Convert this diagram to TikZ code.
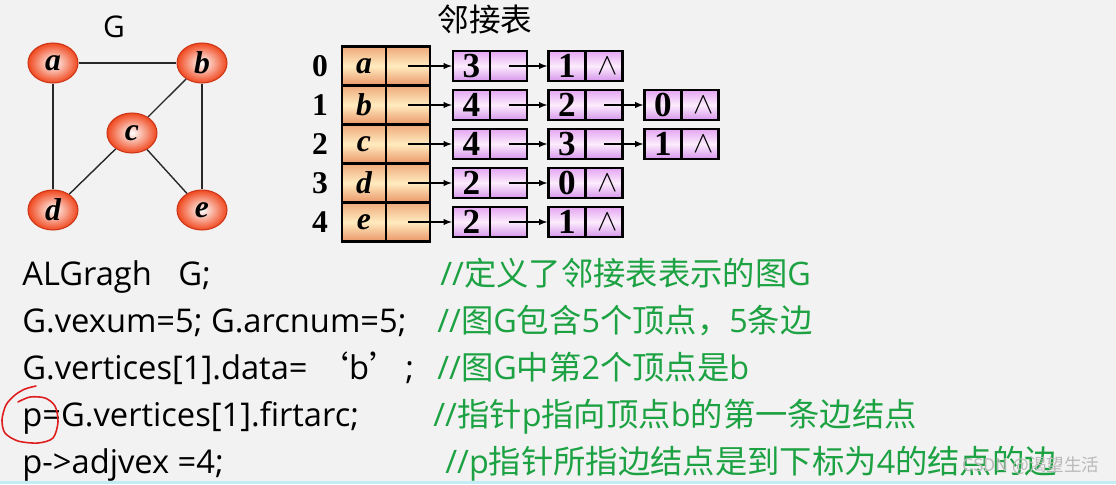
\documentclass[tikz,border=0pt]{standalone}
\usepackage{fontspec}
\setmainfont{Liberation Serif}
\newfontfamily\codefont{Open Sans}
\newfontfamily\cjk{Noto Sans CJK SC}
\usepackage{tikz}
\usetikzlibrary{arrows,shapes,positioning,calc}

\definecolor{bg}{RGB}{242,242,242}
\definecolor{vertred}{RGB}{240,72,30}
\definecolor{vertline}{RGB}{205,55,25}
\definecolor{headtop}{RGB}{238,168,122}
\definecolor{headmid}{RGB}{255,236,192}
\definecolor{headbot}{RGB}{234,150,104}
\definecolor{arctop}{RGB}{228,165,242}
\definecolor{arcmid}{RGB}{252,236,252}
\definecolor{arcbot}{RGB}{214,150,236}
\definecolor{notegreen}{RGB}{28,162,66}
\definecolor{edgecyan}{RGB}{196,236,244}
\definecolor{penred}{RGB}{222,30,30}

\newcommand{\nil}{\raisebox{-3pt}{\hspace{4pt}\fontsize{18}{18}\selectfont$\wedge$}}

\tikzset{
  vert/.style={ellipse, draw=vertline, line width=0.6pt, inner color=white, outer color=vertred,
    minimum width=1cm, minimum height=0.8cm, inner sep=0pt, font=\fontsize{18}{18}\selectfont\bfseries\itshape},
  gedge/.style={line width=0.8pt, draw={rgb,255:red,40;green,40;blue,40}},
  headcell/.style={draw, line width=1.4pt, top color=headtop, bottom color=headbot, middle color=headmid,
    minimum width=0.88cm, minimum height=0.78cm, inner sep=0pt, font=\fontsize{18}{18}\selectfont\bfseries\itshape},
  arccell/.style={draw, line width=1.4pt, top color=arctop, bottom color=arcbot, middle color=arcmid,
    minimum width=0.74cm, minimum height=0.6cm, inner sep=0pt, font=\fontsize{20}{20}\selectfont\bfseries},
  idx/.style={font=\fontsize{18}{18}\selectfont\bfseries, inner sep=0pt},
  arr/.style={-latex, line width=0.6pt},
  title/.style={font=\codefont\fontsize{17}{17}\selectfont, inner sep=0pt},
  code/.style={anchor=base west, inner sep=0pt, font=\codefont\fontsize{18.6}{18.6}\selectfont},
  note/.style={anchor=base west, inner sep=0pt, text=notegreen, font=\codefont\fontsize{18.4}{18.4}\selectfont},
  redloop/.style={draw=penred, line width=0.9pt, line cap=round},
  wmark/.style={inner sep=0pt, text=gray!55, font=\cjk\fontsize{10}{10}\selectfont}
}

\begin{document}
\begin{tikzpicture}[x=0.02cm,y=-0.02cm]
  \path[use as bounding box,fill=bg] (0,0) rectangle (1116,484);
  \fill[edgecyan] (0,481) rectangle (1116,484);

  \node[title] (gname) at (114,27) {G};
  \node[vert] (a) at (53,63) {a};
  \node[vert] (b) at (202,63) {b};
  \node[vert] (c) at (132,133) {c};
  \node[vert] (d) at (53,210) {d};
  \node[vert] (e) at (202,210) {e};
  \draw[gedge] (a) -- (b);
  \draw[gedge] (a) -- (d);
  \draw[gedge] (b) -- (c);
  \draw[gedge] (c) -- (d);
  \draw[gedge] (c) -- (e);
  \draw[gedge] (b) -- (e);

  \node[title,font=\cjk\fontsize{18}{18}\selectfont] (tname) at (485,19) {邻接表};
  \node[idx] (i0) at (320,66) {0};
  \node[idx] (i1) at (320,105) {1};
  \node[idx] (i2) at (320,144) {2};
  \node[idx] (i3) at (320,183) {3};
  \node[idx] (i4) at (320,222) {4};
  \node[headcell] (h0) at (364,66) {a};
  \node[headcell] (p0) at (408,66) {};
  \node[headcell] (h1) at (364,105) {b};
  \node[headcell] (p1) at (408,105) {};
  \node[headcell] (h2) at (364,144) {c};
  \node[headcell] (p2) at (408,144) {};
  \node[headcell] (h3) at (364,183) {d};
  \node[headcell] (p3) at (408,183) {};
  \node[headcell] (h4) at (364,222) {e};
  \node[headcell] (p4) at (408,222) {};

  \node[arccell] (e00) at (471.5,66) {3};
  \node[arccell] (n00) at (508.5,66) {};
  \node[arccell] (e01) at (567,66) {1};
  \node[arccell] (n01) at (604,66) {\nil};
  \node[arccell] (e10) at (471.5,105) {4};
  \node[arccell] (n10) at (508.5,105) {};
  \node[arccell] (e11) at (567,105) {2};
  \node[arccell] (n11) at (604,105) {};
  \node[arccell] (e12) at (663,105) {0};
  \node[arccell] (n12) at (700,105) {\nil};
  \node[arccell] (e20) at (471.5,144) {4};
  \node[arccell] (n20) at (508.5,144) {};
  \node[arccell] (e21) at (567,144) {3};
  \node[arccell] (n21) at (604,144) {};
  \node[arccell] (e22) at (663,144) {1};
  \node[arccell] (n22) at (700,144) {\nil};
  \node[arccell] (e30) at (471.5,183) {2};
  \node[arccell] (n30) at (508.5,183) {};
  \node[arccell] (e31) at (567,183) {0};
  \node[arccell] (n31) at (604,183) {\nil};
  \node[arccell] (e40) at (471.5,222) {2};
  \node[arccell] (n40) at (508.5,222) {};
  \node[arccell] (e41) at (567,222) {1};
  \node[arccell] (n41) at (604,222) {\nil};

  \draw[arr] (p0.center) -- (e00.west);
  \draw[arr] (n00.center) -- (e01.west);
  \draw[arr] (p1.center) -- (e10.west);
  \draw[arr] (n10.center) -- (e11.west);
  \draw[arr] (n11.center) -- (e12.west);
  \draw[arr] (p2.center) -- (e20.west);
  \draw[arr] (n20.center) -- (e21.west);
  \draw[arr] (n21.center) -- (e22.west);
  \draw[arr] (p3.center) -- (e30.west);
  \draw[arr] (n30.center) -- (e31.west);
  \draw[arr] (p4.center) -- (e40.west);
  \draw[arr] (n40.center) -- (e41.west);

  \node[code] (l1) at (22,285) {ALGragh\hspace{15pt}G;};
  \node[code] (l2) at (22,332) {G.vexum=5; G.arcnum=5;};
  \node[code] (l3) at (22,379) {G.vertices[1].data=\hspace{5pt}{\cjk ‘}b{\cjk ’}\hspace{2pt};};
  \node[code] (l4) at (22,426) {p=G.vertices[1].firtarc;};
  \node[code] (l5) at (22,473) {p->adjvex =4;};
  \node[note] (c1) at (440,285) {//{\cjk 定义了邻接表表示的图}G};
  \node[note] (c2) at (437,332) {//{\cjk 图}G{\cjk 包含}5{\cjk 个顶点，}5{\cjk 条边}};
  \node[note] (c3) at (437,379) {//{\cjk 图}G{\cjk 中第}2{\cjk 个顶点是}b};
  \node[note] (c4) at (433,426) {//{\cjk 指针}p{\cjk 指向顶点}b{\cjk 的第一条边结点}};
  \node[note] (c5) at (445,473) {//p{\cjk 指针所指边结点是到下标为}4{\cjk 的结点的边}};

  \draw[redloop] plot[smooth] coordinates {(36,386) (25,389) (15,395) (6,405) (2,420) (5,433) (18,441) (38,443) (53,438) (58,422) (55,406) (45,398) (30,397) (18,402)};

  \node[wmark] (wm) at (1031,466) {CSDN @渴望生活};
\end{tikzpicture}
\end{document}
